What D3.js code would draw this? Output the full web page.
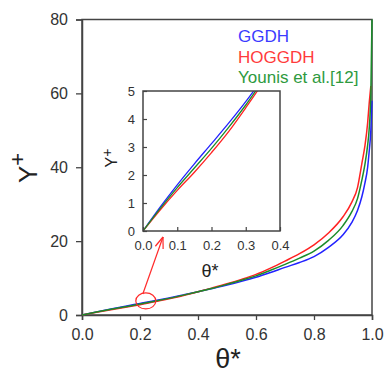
<!DOCTYPE html>
<html>
<head>
<meta charset="utf-8">
<script src="https://cdn.jsdelivr.net/npm/d3@7"></script>
<style>
  body { margin: 0; background: #fff; }
  svg { display: block; font-family: Arial, "Liberation Sans", sans-serif; }
</style>
</head>
<body>
<div id="chart"></div>
<script>
// values
const theta = [0, 0.05, 0.1, 0.15, 0.2, 0.25, 0.3, 0.35, 0.4, 0.45, 0.5, 0.55, 0.6,
               0.65, 0.7, 0.75, 0.8, 0.85, 0.9, 0.93, 0.95, 0.965, 0.975, 0.985, 0.99, 0.996, 1.0];
const ggdh = [0, 0.85, 1.65, 2.4, 3.12, 3.85, 4.62, 5.45, 6.3, 7.2, 8.1, 9.1, 10.2,
              11.5, 12.9, 14.2, 15.8, 18.3, 21.7, 25, 28.3, 32, 35.5, 40, 44, 50, 58];
const hoggdh = [0, 0.75, 1.45, 2.1, 2.8, 3.55, 4.4, 5.3, 6.3, 7.35, 8.45, 9.65, 11.0,
                12.7, 14.6, 16.6, 19.0, 22.2, 26.6, 30.5, 34.5, 41, 45.5, 52, 57, 62, null];
const younis = [0, 0.8, 1.55, 2.25, 2.95, 3.7, 4.5, 5.38, 6.3, 7.25, 8.3, 9.4, 10.6,
                12.1, 13.7, 15.4, 17.3, 20.2, 24.2, 27.9, 31.5, 36.5, 40.5, 46, 50, 60, 80];

const seriesNames = ["GGDH", "HOGGDH", "Younis et al.[12]"];
const lineColors = ["#2222ff", "#ff2222", "#1a8c2a"];
const textColors = ["#3b3bff", "#ff3b3b", "#2e9a3e"];

const xTicks = [0, 0.2, 0.4, 0.6, 0.8, 1.0];
const yTicks = [0, 20, 40, 60, 80];
const insetXTicks = [0, 0.1, 0.2, 0.3, 0.4];
const insetYTicks = [0, 1, 2, 3, 4, 5];

// circled point on the main plot
const markTheta = 0.22, markY = 3.8;

const W = 384, H = 375;
const frameColor = "#444";
const labelColor = "#333";

const svg = d3.select("#chart").append("svg")
    .attr("width", W)
    .attr("height", H);

function rows(values) {
    return theta.map((t, i) => ({ t: t, v: values[i] }));
}
const series = [rows(ggdh), rows(hoggdh), rows(younis)];

// main plot
const x = d3.scaleLinear().domain([0, 1]).range([82, 372]);
const y = d3.scaleLinear().domain([0, 80]).range([315, 19.5]);

svg.append("rect")
    .attr("x", x(0)).attr("y", y(80))
    .attr("width", x(1) - x(0)).attr("height", y(0) - y(80))
    .attr("fill", "none").attr("stroke", frameColor).attr("stroke-width", 1.5);

const xAxis = svg.append("g")
    .attr("transform", `translate(0,${y(0)})`)
    .call(d3.axisBottom(x).tickValues(xTicks).tickFormat(d3.format(".1f"))
        .tickSize(5).tickPadding(9));
const yAxis = svg.append("g")
    .attr("transform", `translate(${x(0)},0)`)
    .call(d3.axisLeft(y).tickValues(yTicks).tickSize(6).tickPadding(8));

[xAxis, yAxis].forEach(g => {
    g.select(".domain").attr("stroke", frameColor).attr("stroke-width", 1.5);
    g.selectAll(".tick line").attr("stroke", frameColor).attr("stroke-width", 1.3);
    g.selectAll(".tick text").attr("fill", labelColor)
        .style("font-size", "16px").attr("font-family", "Arial, 'Liberation Sans', sans-serif");
});

const line = d3.line()
    .defined(d => d.v !== null)
    .x(d => x(d.t))
    .y(d => y(d.v))
    .curve(d3.curveMonotoneX);

[0, 1, 2].forEach(i => {
    svg.append("path")
        .datum(series[i])
        .attr("fill", "none")
        .attr("stroke", lineColors[i])
        .attr("stroke-width", 1.5)
        .attr("d", line);
});

// axis titles
svg.append("text")
    .attr("x", 228).attr("y", 368)
    .attr("text-anchor", "middle")
    .attr("fill", "#222")
    .style("font-size", "27px")
    .text("θ*");

const yTitle = svg.append("text")
    .attr("transform", "translate(37,168) rotate(-90)")
    .attr("text-anchor", "middle")
    .attr("fill", "#222")
    .style("font-size", "26px");
yTitle.append("tspan").text("Y");
yTitle.append("tspan").attr("dy", -12).style("font-size", "22px").text("+");

// legend
seriesNames.forEach((name, i) => {
    svg.append("text")
        .attr("x", 238).attr("y", 42 + i * 20.5)
        .attr("fill", textColors[i])
        .style("font-size", "17px")
        .text(name);
});

// inset
const xi = d3.scaleLinear().domain([0, 0.4]).range([143, 280]);
const yi = d3.scaleLinear().domain([0, 5]).range([231, 91]);

svg.append("defs").append("clipPath").attr("id", "insetClip")
    .append("rect")
    .attr("x", xi(0)).attr("y", yi(5))
    .attr("width", xi(0.4) - xi(0)).attr("height", yi(0) - yi(5));

svg.append("rect")
    .attr("x", xi(0)).attr("y", yi(5))
    .attr("width", xi(0.4) - xi(0)).attr("height", yi(0) - yi(5))
    .attr("fill", "#fff");

const insetLine = d3.line()
    .defined(d => d.v !== null)
    .x(d => xi(d.t))
    .y(d => yi(d.v))
    .curve(d3.curveMonotoneX);

const insetG = svg.append("g").attr("clip-path", "url(#insetClip)");
[0, 1, 2].forEach(i => {
    insetG.append("path")
        .datum(series[i].filter(d => d.t <= 0.45))
        .attr("fill", "none")
        .attr("stroke", lineColors[i])
        .attr("stroke-width", 1.3)
        .attr("d", insetLine);
});

svg.append("rect")
    .attr("x", xi(0)).attr("y", yi(5))
    .attr("width", xi(0.4) - xi(0)).attr("height", yi(0) - yi(5))
    .attr("fill", "none").attr("stroke", frameColor).attr("stroke-width", 1.5);

const ixAxis = svg.append("g")
    .attr("transform", `translate(0,${yi(0)})`)
    .call(d3.axisBottom(xi).tickValues(insetXTicks).tickFormat(d3.format(".1f"))
        .tickSize(-4).tickPadding(10));
const iyAxis = svg.append("g")
    .attr("transform", `translate(${xi(0)},0)`)
    .call(d3.axisLeft(yi).tickValues(insetYTicks).tickFormat(d3.format("d"))
        .tickSize(-4).tickPadding(8));

[ixAxis, iyAxis].forEach(g => {
    g.select(".domain").remove();
    g.selectAll(".tick line").attr("stroke", frameColor).attr("stroke-width", 1.2);
    g.selectAll(".tick text").attr("fill", labelColor)
        .style("font-size", "13px").attr("font-family", "Arial, 'Liberation Sans', sans-serif");
});

svg.append("text")
    .attr("x", 210).attr("y", 277)
    .attr("text-anchor", "middle")
    .attr("fill", "#222")
    .style("font-size", "18px")
    .text("θ*");

const iyTitle = svg.append("text")
    .attr("transform", "translate(117,158) rotate(-90)")
    .attr("text-anchor", "middle")
    .attr("fill", "#222")
    .style("font-size", "16px");
iyTitle.append("tspan").text("Y");
iyTitle.append("tspan").attr("dy", -5).style("font-size", "14px").text("+");

// circle and arrow pointing at the inset
const red = "#ff2a2a";
svg.append("ellipse")
    .attr("cx", x(markTheta)).attr("cy", y(markY))
    .attr("rx", 10).attr("ry", 8)
    .attr("fill", "none").attr("stroke", red).attr("stroke-width", 1.2);

const tail = [x(markTheta) - 3, y(markY) - 7];
const tip = [163, 237];
svg.append("line")
    .attr("x1", tail[0]).attr("y1", tail[1])
    .attr("x2", tip[0]).attr("y2", tip[1])
    .attr("stroke", red).attr("stroke-width", 1.2);
const ang = Math.atan2(tip[1] - tail[1], tip[0] - tail[0]);
[-0.35, 0.35].forEach(a => {
    svg.append("line")
        .attr("x1", tip[0]).attr("y1", tip[1])
        .attr("x2", tip[0] - 12 * Math.cos(ang + a))
        .attr("y2", tip[1] - 12 * Math.sin(ang + a))
        .attr("stroke", red).attr("stroke-width", 1.2);
});
</script>
</body>
</html>
